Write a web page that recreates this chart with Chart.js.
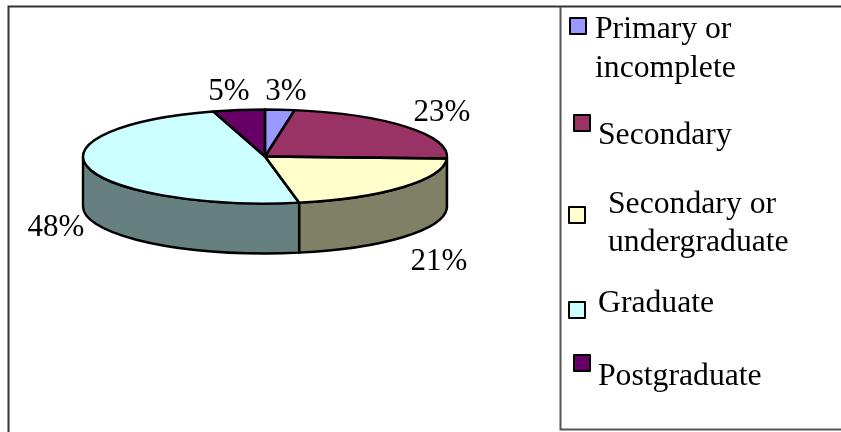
<!DOCTYPE html>
<html>
<head>
<meta charset="utf-8">
<style>
html,body{margin:0;padding:0;background:#fff;}
#wrap{position:absolute;left:0;top:0;width:841px;height:432px;}
</style>
<script src="https://cdn.jsdelivr.net/npm/chart.js@4"></script>
</head>
<body>
<div id="wrap"><canvas id="c" width="841" height="432"></canvas></div>
<script>
const categories = ['Primary or incomplete', 'Secondary', 'Secondary or undergraduate', 'Graduate', 'Postgraduate'];
const shares = [2.6, 23.1, 21.3, 48.4, 4.6];
const pctLabels = ['3%', '23%', '21%', '48%', '5%'];
const topColors = ['#9999FF', '#993366', '#FFFFCC', '#CCFFFF', '#660066'];
const wallColors = ['#4C4C80', '#4C1933', '#808066', '#668080', '#330033'];

const LABEL_FONT = '31px "Liberation Serif"';
const LEGEND_FONT = '31.7px "Liberation Serif"';
const TILT = 47 / 182;
const DEPTH = 50;
const HALF = Math.PI / 2;

// layout of the hand-placed legend: line breaks and offsets per entry
const legendLayout = [
  {box: [570, 18], lines: [['Primary or', 595, 38], ['incomplete', 595, 77]]},
  {box: [574, 115], lines: [['Secondary', 598, 144]]},
  {box: [569, 207], lines: [['Secondary or', 608, 213], ['undergraduate', 608, 251]]},
  {box: [569, 302], lines: [['Graduate', 598, 312]]},
  {box: [574, 355], lines: [['Postgraduate', 598, 385]]}
];
// label anchor relative to pie centre, per slice
const labelAnchor = [[21, -64.5], [177, -43.5], [174, 105.5], [-209, 71.5], [-36, -64.5]];

const tilted3d = {
  id: 'tilted3d',
  beforeDatasetsDraw(chart) {
    const ctx = chart.ctx, arcs = chart.getDatasetMeta(0).data, a0 = arcs[0];
    const cx = a0.x, cy = a0.y, rx = a0.outerRadius, ry = rx * TILT;
    // walls of the visible front half
    ctx.save();
    ctx.lineWidth = 2.4;
    ctx.strokeStyle = '#000';
    ctx.lineJoin = 'round';
    arcs.forEach((arc, i) => {
      // angles are canvas angles; clamp to the front half (0..PI)
      const wrap = a => { let v = a; while (v < -HALF) v += 2 * Math.PI; return v; };
      const s = Math.max(wrap(arc.startAngle), 0);
      const e = Math.min(wrap(arc.startAngle) + (arc.endAngle - arc.startAngle), Math.PI);
      if (e <= s) return;
      ctx.beginPath();
      ctx.ellipse(cx, cy, rx, ry, 0, s, e);
      ctx.lineTo(cx + rx * Math.cos(e), cy + ry * Math.sin(e) + DEPTH);
      ctx.ellipse(cx, cy + DEPTH, rx, ry, 0, e, s, true);
      ctx.closePath();
      ctx.fillStyle = wallColors[i];
      ctx.fill();
      ctx.stroke();
    });
    ctx.restore();
    // squash the library's circular arcs into the tilted ellipse
    ctx.save();
    ctx.translate(cx, cy);
    ctx.scale(1, TILT);
    ctx.translate(-cx, -cy);
  },
  afterDatasetsDraw(chart) {
    const ctx = chart.ctx, arcs = chart.getDatasetMeta(0).data, a0 = arcs[0];
    ctx.restore();
    const cx = a0.x, cy = a0.y, rx = a0.outerRadius, ry = rx * TILT;
    ctx.save();
    ctx.lineWidth = 2.4;
    ctx.strokeStyle = '#000';
    ctx.lineJoin = 'round';
    arcs.forEach(arc => {
      ctx.beginPath();
      ctx.moveTo(cx, cy);
      ctx.ellipse(cx, cy, rx, ry, 0, arc.startAngle, arc.endAngle);
      ctx.closePath();
      ctx.stroke();
    });
    // percentage labels
    ctx.font = LABEL_FONT;
    ctx.fillStyle = '#000';
    ctx.textAlign = 'center';
    ctx.textBaseline = 'middle';
    pctLabels.forEach((t, i) => ctx.fillText(t, cx + labelAnchor[i][0], cy + labelAnchor[i][1]));
    // hand-placed legend
    ctx.font = LEGEND_FONT;
    ctx.textAlign = 'left';
    ctx.textBaseline = 'alphabetic';
    legendLayout.forEach((item, i) => {
      ctx.fillStyle = topColors[i];
      ctx.fillRect(item.box[0], item.box[1], 16, 16);
      ctx.strokeStyle = '#000';
      ctx.lineWidth = 2;
      ctx.strokeRect(item.box[0], item.box[1], 16, 16);
      ctx.fillStyle = '#000';
      item.lines.forEach(l => ctx.fillText(l[0], l[1], l[2]));
    });
    ctx.restore();
  },
  afterDraw(chart) {
    const ctx = chart.ctx;
    ctx.save();
    ctx.strokeStyle = '#333';
    ctx.lineWidth = 2;
    ctx.beginPath();
    ctx.moveTo(841, 6.5); ctx.lineTo(8.5, 6.5); ctx.lineTo(8.5, 432);
    ctx.stroke();
    ctx.strokeStyle = '#555';
    ctx.beginPath();
    ctx.moveTo(560.5, 6.5); ctx.lineTo(560.5, 429.5); ctx.lineTo(841, 429.5);
    ctx.stroke();
    ctx.restore();
  }
};

new Chart(document.getElementById('c'), {
  type: 'pie',
  data: {
    labels: categories,
    datasets: [{
      data: shares,
      backgroundColor: topColors,
      borderWidth: 0,
      radius: 182,
      clip: false
    }]
  },
  options: {
    responsive: false,
    animation: false,
    rotation: 0,
    layout: {padding: {left: 0, top: 0, right: 311, bottom: 119}},
    plugins: {legend: {display: false}, tooltip: {enabled: false}, title: {display: false}}
  },
  plugins: [tilted3d]
});
</script>
</body>
</html>
